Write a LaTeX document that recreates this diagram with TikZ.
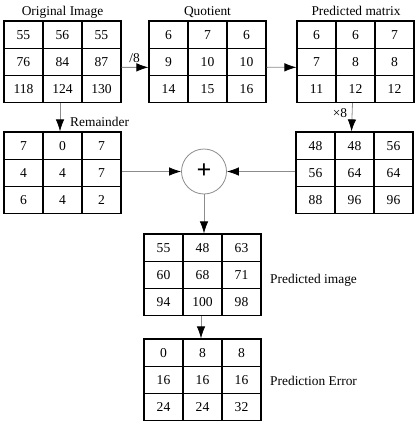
\documentclass[tikz,border=0pt]{standalone}
\usepackage{fontspec}
\setmainfont{Liberation Serif}
\usetikzlibrary{matrix,arrows.meta}
\begin{document}
\begin{tikzpicture}[x=1pt,y=-1pt,
  grid/.style={matrix of nodes, inner sep=0pt, outer sep=0pt, anchor=north west,
    column sep=-1.2pt, row sep=-1.2pt,
    nodes={draw, line width=1.2pt, minimum width=39pt, minimum height=27.2pt,
      inner sep=0pt, font=\fontsize{13.6}{14}\selectfont}},
  lbl/.style={font=\fontsize{13.4}{14}\selectfont, inner sep=0pt},
  arr/.style={draw=black!45, line width=0.8pt,
    -{Latex[length=12pt,width=8.5pt,color=black]}}]
\useasboundingbox (0,0) rectangle (418,428);

\matrix (orig) [grid] at (3.4,20.4) {55 & 56 & 55\\ 76 & 84 & 87\\ 118 & 124 & 130\\};
\matrix (quot) [grid] at (148.4,20.4) {6 & 7 & 6\\ 9 & 10 & 10\\ 14 & 15 & 16\\};
\matrix (pm) [grid] at (296.4,20.4) {6 & 6 & 7\\ 7 & 8 & 8\\ 11 & 12 & 12\\};
\matrix (rem) [grid] at (3.4,131.4) {7 & 0 & 7\\ 4 & 4 & 7\\ 6 & 4 & 2\\};
\matrix (mul) [grid] at (295.4,131.4) {48 & 48 & 56\\ 56 & 64 & 64\\ 88 & 96 & 96\\};
\matrix (pimg) [grid] at (143.4,233.4) {55 & 48 & 63\\ 60 & 68 & 71\\ 94 & 100 & 98\\};
\matrix (perr) [grid] at (143.4,338.4) {0 & 8 & 8\\ 16 & 16 & 16\\ 24 & 24 & 32\\};

\node[circle, draw=black!45, line width=0.8pt, minimum size=45pt, inner sep=0pt,
  font=\fontsize{26}{26}\selectfont\bfseries] (plus) at (204,171.5) {+};

\node[lbl, anchor=base] (tOrig) at (62.5,16) {Original Image};
\node[lbl, anchor=base] (tQuot) at (207.5,16) {Quotient};
\node[lbl, anchor=base] (tPm) at (356,16) {Predicted matrix};
\node[lbl, anchor=base west] (tRem) at (70,126.5) {Remainder};
\node[lbl, anchor=base] (tDiv) at (134.5,63) {/8};
\node[lbl, anchor=base] (tMul) at (340,117.5) {×8};
\node[lbl, anchor=base west] (tPimg) at (270,283) {Predicted image};
\node[lbl, anchor=base west] (tPerr) at (270,385.5) {Prediction Error};

\draw[arr] ([yshift=-5.5pt]orig.east) -- ([yshift=-5.5pt]quot.west);
\draw[arr] ([yshift=-5.5pt]quot.east) -- ([yshift=-5.5pt]pm.west);
\draw[arr] ([xshift=-2.5pt]orig.south) -- ([xshift=-2.5pt]rem.north);
\draw[arr] ([xshift=-3pt]pm.south) -- ([xshift=-3pt]mul.north);
\draw[arr] (rem.east |- plus) -- (plus.west);
\draw[arr] (mul.west |- plus) -- (plus.east);
\draw[arr] (plus.south) -- (plus.south |- pimg.north);
\draw[arr] ([xshift=-1.5pt]pimg.south) -- ([xshift=-1.5pt]perr.north);
\end{tikzpicture}
\end{document}
